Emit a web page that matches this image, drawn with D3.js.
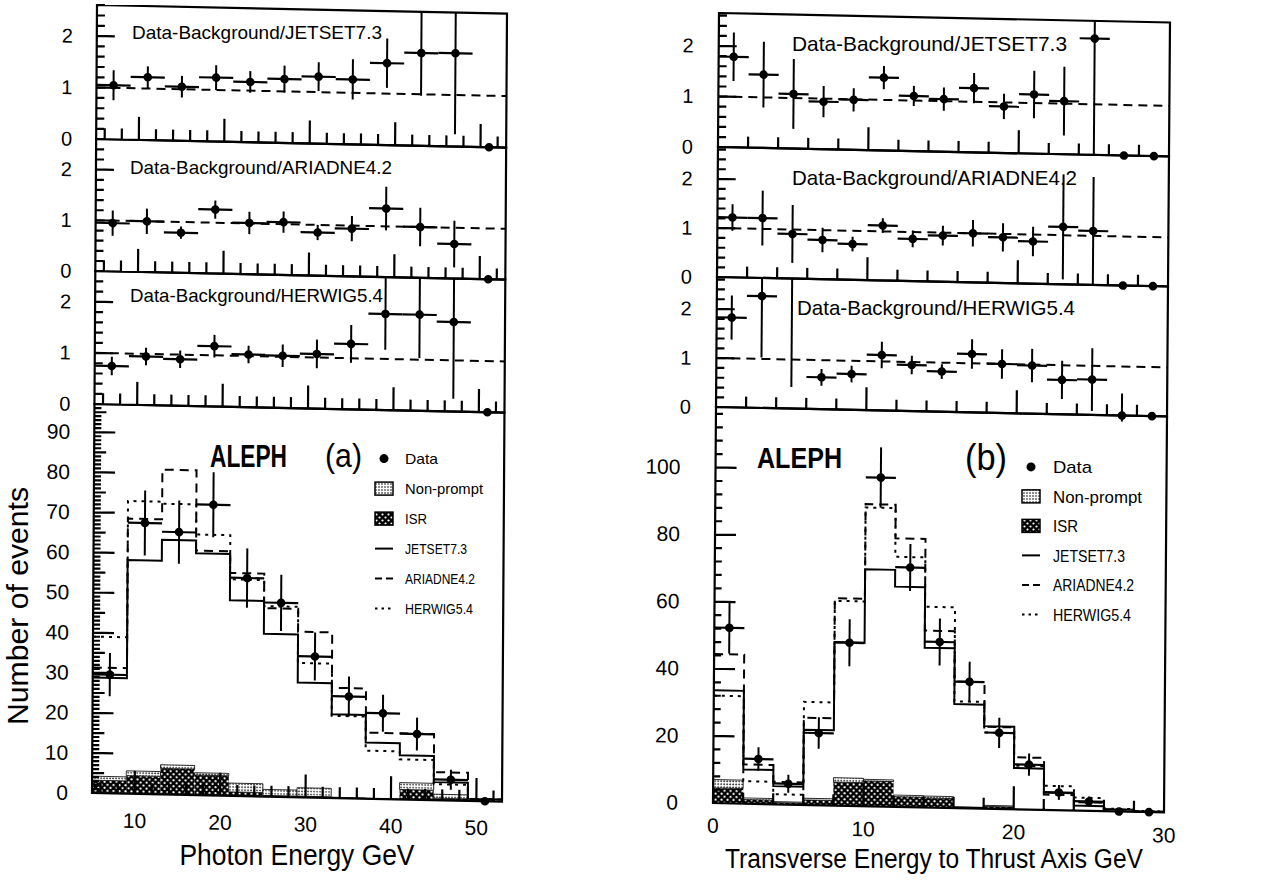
<!DOCTYPE html>
<html><head><meta charset="utf-8">
<script src="https://cdn.jsdelivr.net/npm/d3@7"></script>
<style>
body{margin:0;background:#fff;}
svg{display:block;}
text{font-family:"Liberation Sans","DejaVu Sans",Arial,sans-serif;fill:#000;}
</style>
</head><body>
<svg id="c" width="1261" height="882"></svg>
<script>
// ---------------- DATA ----------------
// (a) Photon energy, 4 GeV bins
const edgesA   = [5,9,13,17,21,25,29,33,37,41,45,49,53];
const centersA = [7,11,15,19,23,27,31,35,39,43,47,51];
const dataA    = [29.6,67.6,65.5,72.5,54.4,48.4,35.2,25.4,21.4,16.4,5.2,0];
const dataErrA = [5.4,8.1,7.9,8.1,7.4,7.0,6.0,5.0,4.6,4.1,2.5,0];
const jetsetA  = [28.8,58.3,63.5,60.3,48.8,40.6,28.6,20.9,14.0,11.0,4.5,0.5];
const ariadneA = [31.3,68.6,81.0,61.0,55.6,47.0,41.3,27.5,16.5,16.5,7.0,0.5];
const herwigA  = [39.0,73.0,72.5,65.0,54.0,47.5,33.5,20.5,12.0,10.0,4.0,0.5];
const isrA       = [3.2,4.5,6.5,5.0,1.0,0.3,0.3,0,0,2.5,0.5,0];
const nonPromptA = [1.0,1.2,0.9,0.6,2.2,1.5,2.1,0.2,0.1,1.7,1.0,0];
const ratioJetsetA     = [1.05,1.22,1.05,1.24,1.17,1.24,1.30,1.26,1.59,1.80,1.81,0];
const ratioJetsetErrA  = [0.29,0.21,0.21,0.24,0.21,0.26,0.28,0.39,0.48,0.83,1.57,0];
const ratioAriadneA    = [0.95,1.00,0.79,1.26,1.01,1.04,0.85,0.94,1.35,1.00,0.68,0];
const ratioAriadneErrA = [0.25,0.25,0.12,0.18,0.22,0.21,0.15,0.25,0.43,0.38,0.46,0];
const ratioHerwigA     = [0.75,0.95,0.91,1.18,1.03,1.02,1.07,1.28,1.88,1.88,1.75,0];
const ratioHerwigErrA  = [0.18,0.17,0.17,0.22,0.17,0.22,0.28,0.37,0.70,0.85,1.50,0];

// (b) Transverse energy to thrust axis, 2 GeV bins
const edgesB   = [0,2,4,6,8,10,12,14,16,18,20,22,24,26,28,30];
const centersB = [1,3,5,7,9,11,13,15,17,19,21,23,25,27,29];
const dataB    = [52.3,13.4,6.2,21.5,48.6,98.0,71.4,49.4,37.7,22.7,13.4,5.3,2.8,0,0];
const dataErrB = [7.7,3.5,2.7,4.7,7.0,9.0,7.0,7.0,6.0,4.5,3.3,2.2,1.5,0,0];
const jetsetB  = [33.6,10.2,5.4,22.4,48.7,70.6,65.6,47.6,31.0,24.6,12.3,5.2,1.5,0.6,0.2];
const ariadneB = [44.4,11.7,6.7,26.0,61.8,90.0,80.0,52.7,37.7,24.4,15.5,4.6,2.5,0.6,0.2];
const herwigB  = [32.0,6.7,3.0,30.7,61.0,89.0,74.5,59.8,31.8,22.7,13.0,7.2,3.9,0.8,0.3];
const isrB       = [4.5,1.2,0.5,1.5,7.0,7.5,3.0,2.8,0.3,0.7,0,0,0,0,0];
const nonPromptB = [2.5,0.5,0.3,0.5,1.3,0.5,0.5,0.6,0.1,0.3,0,0,0,0,0];
const ratioJetsetB     = [1.79,1.45,1.08,0.94,0.99,1.44,1.09,1.04,1.27,0.92,1.17,1.05,2.30,0,0];
const ratioJetsetErrB  = [0.48,0.65,0.69,0.31,0.23,0.23,0.20,0.23,0.30,0.25,0.47,0.68,2.30,0,0];
const ratioAriadneB    = [1.22,1.22,0.91,0.80,0.73,1.12,0.86,0.94,1.00,0.93,0.86,1.17,1.10,0,0];
const ratioAriadneErrB = [0.27,0.56,0.59,0.25,0.15,0.15,0.17,0.20,0.27,0.29,0.30,1.07,1.10,0,0];
const ratioHerwigB     = [1.83,2.28,3.00,0.65,0.73,1.13,0.94,0.82,1.19,1.00,0.98,0.70,0.72,0,0];
const ratioHerwigErrB  = [0.45,1.25,2.56,0.17,0.17,0.27,0.19,0.15,0.30,0.30,0.34,0.39,0.64,0.45,0];

// tick labels
const ratioTickLabels = [0,1,2];
const mainTicksA = [0,10,20,30,40,50,60,70,80,90];
const mainTicksB = [0,20,40,60,80,100];
const xTicksA = [10,20,30,40,50];
const xTicksB = [0,10,20,30];
const ratioTitlesA = ["Data-Background/JETSET7.3","Data-Background/ARIADNE4.2","Data-Background/HERWIG5.4"];
const ratioTitlesB = ["Data-Background/JETSET7.3","Data-Background/ARIADNE4.2","Data-Background/HERWIG5.4"];
const legendLabels = ["Data","Non-prompt","ISR","JETSET7.3","ARIADNE4.2","HERWIG5.4"];

// ---------------- DRAWING ----------------
const svg = d3.select("#c");
const defs = svg.append("defs");
const pI = defs.append("pattern").attr("id","isrPat").attr("patternUnits","userSpaceOnUse").attr("width",6).attr("height",6);
pI.append("rect").attr("width",6).attr("height",6).attr("fill","#000");
pI.append("circle").attr("cx",1.5).attr("cy",1.5).attr("r",1.1).attr("fill","#fff");
pI.append("circle").attr("cx",4.5).attr("cy",4.5).attr("r",1.1).attr("fill","#fff");
const pN = defs.append("pattern").attr("id","npPat").attr("patternUnits","userSpaceOnUse").attr("width",3).attr("height",3);
pN.append("rect").attr("width",3).attr("height",3).attr("fill","#fff");
pN.append("circle").attr("cx",1).attr("cy",1).attr("r",0.8).attr("fill","#000");

const DASH = {jetset:null, ariadne:"9,6", herwig:"3,5"};

function stepPts(edges, vals){
  const p = vals.map((v,i)=>[edges[i],v]);
  p.push([edges[edges.length-1], vals[vals.length-1]]);
  return p;
}

// frame + ticks combined in a single path (design coordinates, inside skewed group)
function frameWithTicks(g, l, t, r, b, segs){
  let d = `M${l},${t}H${r}V${b}H${l}Z`;
  segs.forEach(s=>{ d += `M${s[0].toFixed(2)},${s[1].toFixed(2)}L${s[2].toFixed(2)},${s[3].toFixed(2)}`; });
  g.append("path").attr("d",d).attr("fill","none").attr("stroke","#000").attr("stroke-width",2.2);
}

function drawPoints(g, x, y, centers, vals, errs, halfW, clipId){
  const pts = centers.map((c,i)=>({c, v:vals[i], e:errs[i]}));
  const pg = g.append("g").attr("clip-path",`url(#${clipId})`);
  pg.append("g").selectAll("line").data(pts.filter(d=>d.v>0)).join("line")
    .attr("x1",d=>x(d.c-halfW)).attr("x2",d=>x(d.c+halfW))
    .attr("y1",d=>y(d.v)).attr("y2",d=>y(d.v))
    .attr("stroke","#000").attr("stroke-width",2.2);
  pg.append("g").selectAll("line").data(pts.filter(d=>d.e>0)).join("line")
    .attr("x1",d=>x(d.c)).attr("x2",d=>x(d.c))
    .attr("y1",d=>y(d.v-d.e)).attr("y2",d=>y(d.v+d.e))
    .attr("stroke","#000").attr("stroke-width",2);
  pg.append("g").selectAll("circle").data(pts).join("circle")
    .attr("cx",d=>x(d.c)).attr("cy",d=>y(d.v)).attr("r",4.3).attr("fill","#000");
}

function panel(cfg, P){
  const g = svg.append("g").attr("transform",
    `translate(${cfg.left},${cfg.top}) matrix(1,${cfg.skewB},${cfg.skewC},1,0,0) translate(${-cfg.left},${-cfg.top})`);
  const x = d3.scaleLinear().domain(cfg.xDomain).range([cfg.left, cfg.right]);
  const tops = [cfg.top, ...cfg.ratioBottoms];
  const halfW = (P.edges[1]-P.edges[0])/2;
  const xMinor = d3.range(Math.ceil(cfg.xDomain[0]), cfg.xDomain[1], 1)
                   .filter(v=>v%2===0 && v>cfg.xDomain[0] && v<cfg.xDomain[1]);

  P.ratios.forEach((r,k)=>{
    const top = tops[k], bot = tops[k+1];
    const y = d3.scaleLinear().domain([0,cfg.ratioMax]).range([bot, top]);
    const cid = cfg.id+"r"+k;
    defs.append("clipPath").attr("id",cid).append("rect")
      .attr("x",cfg.left-10).attr("y",top).attr("width",cfg.right-cfg.left+20).attr("height",bot-top+6);
    g.append("line").attr("x1",cfg.left).attr("x2",cfg.right).attr("y1",y(1)).attr("y2",y(1))
      .attr("stroke","#000").attr("stroke-width",2).attr("stroke-dasharray","9,6");
    drawPoints(g, x, y, P.centers, r.vals, r.errs, halfW, cid);
    const segs = [];
    d3.range(1, Math.floor(cfg.ratioMax*5+1e-6)+1).forEach(i=>{
      const v=i/5, L=(i%5===0)?18:8; segs.push([cfg.left, y(v), cfg.left+L, y(v)]);
    });
    xMinor.forEach(v=>segs.push([x(v), bot, x(v), bot-(v%10===0?23:11)]));
    g.append("g").selectAll("text").data(ratioTickLabels).join("text")
      .attr("x",cfg.left-cfg.yLabelOffRatio).attr("y",d=>y(d)).attr("dy","0.36em")
      .attr("text-anchor","end").attr("font-size",cfg.ratioLabelSize).text(d=>d);
    frameWithTicks(g, cfg.left, top, cfg.right, bot, segs);
  });

  const mTop = tops[3], mBot = cfg.mainBottom;
  const y = d3.scaleLinear().domain([0,cfg.mainMax]).range([mBot, mTop]);
  const cid = cfg.id+"m";
  defs.append("clipPath").attr("id",cid).append("rect")
    .attr("x",cfg.left-10).attr("y",mTop).attr("width",cfg.right-cfg.left+20).attr("height",mBot-mTop+6);
  const bins = P.isr.map((v,i)=>({x0:P.edges[i], x1:P.edges[i+1], isr:v, np:P.np[i]}));
  g.append("g").selectAll("rect").data(bins.filter(d=>d.isr>0)).join("rect")
    .attr("x",d=>x(d.x0)).attr("width",d=>x(d.x1)-x(d.x0))
    .attr("y",d=>y(d.isr)).attr("height",d=>y(0)-y(d.isr)).attr("fill","url(#isrPat)");
  g.append("g").selectAll("rect").data(bins.filter(d=>d.np>0)).join("rect")
    .attr("x",d=>x(d.x0)).attr("width",d=>x(d.x1)-x(d.x0))
    .attr("y",d=>y(d.isr+d.np)).attr("height",d=>y(d.isr)-y(d.isr+d.np))
    .attr("fill","url(#npPat)").attr("stroke","#000").attr("stroke-width",0.8);
  const line = d3.line().x(d=>x(d[0])).y(d=>y(d[1])).curve(d3.curveStepAfter);
  P.hists.forEach(h=>{
    g.append("path").attr("d",line(stepPts(P.edges,h.vals))).attr("fill","none")
      .attr("stroke","#000").attr("stroke-width",2).attr("stroke-dasharray",DASH[h.key]);
  });
  drawPoints(g, x, y, P.centers, P.data, P.dataErr, halfW, cid);
  const segs = [];
  d3.range(1, Math.floor(cfg.mainMax/cfg.mainMinor)+1).forEach(i=>{
    const v=i*cfg.mainMinor;
    const L = v%cfg.mainMajor===0 ? 21 : (cfg.mainMid && v%cfg.mainMid===0 ? 12 : 7);
    segs.push([cfg.left, y(v), cfg.left+L, y(v)]);
  });
  xMinor.forEach(v=>segs.push([x(v), mBot, x(v), mBot-(v%10===0?23:11)]));
  g.append("g").selectAll("text").data(P.yTicks).join("text")
    .attr("x",cfg.left-cfg.yLabelOffMain).attr("y",d=>y(d)).attr("dy","0.36em")
    .attr("text-anchor","end").attr("font-size",21).text(d=>d);
  g.append("g").selectAll("text").data(P.xTicks).join("text")
    .attr("x",d=>x(d)).attr("y",mBot+cfg.xLabelDy)
    .attr("text-anchor","middle").attr("font-size",21).text(d=>d);
  frameWithTicks(g, cfg.left, mTop, cfg.right, mBot, segs);
}

panel({id:"A", left:97, right:507, top:5, ratioBottoms:[139,271,404], mainBottom:793, xDomain:[5,53],
       ratioMax:2.6, mainMax:97, skewB:0.021, skewC:-0.00635, yLabelOffRatio:24, yLabelOffMain:24,
       xLabelDy:34, mainMinor:1, mainMid:5, mainMajor:10, ratioLabelSize:20},
 {edges:edgesA, centers:centersA, data:dataA, dataErr:dataErrA, isr:isrA, np:nonPromptA,
  yTicks:mainTicksA, xTicks:xTicksA,
  hists:[{key:"jetset",vals:jetsetA},{key:"ariadne",vals:ariadneA},{key:"herwig",vals:herwigA}],
  ratios:[{vals:ratioJetsetA,errs:ratioJetsetErrA},{vals:ratioAriadneA,errs:ratioAriadneErrA},{vals:ratioHerwigA,errs:ratioHerwigErrA}]});

panel({id:"B", left:719, right:1170, top:13, ratioBottoms:[147,277,407], mainBottom:803, xDomain:[0,30],
       ratioMax:2.65, mainMax:118, skewB:0.021, skewC:-0.0076, yLabelOffRatio:25, yLabelOffMain:35,
       xLabelDy:30, mainMinor:4, mainMid:null, mainMajor:20, ratioLabelSize:20},
 {edges:edgesB, centers:centersB, data:dataB, dataErr:dataErrB, isr:isrB, np:nonPromptB,
  yTicks:mainTicksB, xTicks:xTicksB,
  hists:[{key:"jetset",vals:jetsetB},{key:"ariadne",vals:ariadneB},{key:"herwig",vals:herwigB}],
  ratios:[{vals:ratioJetsetB,errs:ratioJetsetErrB},{vals:ratioAriadneB,errs:ratioAriadneErrB},{vals:ratioHerwigB,errs:ratioHerwigErrB}]});

// ---------------- TEXT (page coordinates) ----------------
const T = svg.append("g");
function txt(s, x, y, size, len, opts={}){
  const t = T.append("text").attr("x",x).attr("y",y).attr("font-size",size).text(s);
  if(len) t.attr("textLength",len).attr("lengthAdjust","spacingAndGlyphs");
  if(opts.anchor) t.attr("text-anchor",opts.anchor);
  if(opts.weight) t.attr("font-weight",opts.weight);
  return t;
}
[[132,39],[130,174],[130,302]].forEach((p,i)=>txt(ratioTitlesA[i], p[0], p[1], 19, [250,262,253][i]));
[[792,51],[792,185],[797,315]].forEach((p,i)=>txt(ratioTitlesB[i], p[0], p[1], 21, [275,285,278][i]));
txt("ALEPH",210,467,31,77,{weight:"bold"});
txt("(a)",325,467,34,37);
txt("ALEPH",757,468,30,85,{weight:"bold"});
txt("(b)",965,470,36,42);
T.append("text").attr("transform","translate(28,606) rotate(-90)").attr("text-anchor","middle")
  .attr("font-size",29).attr("textLength",238).attr("lengthAdjust","spacingAndGlyphs").text("Number of events");
txt("Photon Energy GeV",297,865,30,235,{anchor:"middle"});
txt("Transverse Energy to Thrust Axis GeV",934,868,27,418,{anchor:"middle"});

function legend(x0, symX, base, step, size, widths){
  legendLabels.forEach((lab,i)=>{
    const yb = base + step*i, ym = yb - size*0.36;
    if(i===0) T.append("circle").attr("cx",symX+9).attr("cy",ym).attr("r",4.5).attr("fill","#000");
    else if(i===1||i===2){
      T.append("rect").attr("x",symX).attr("y",ym-6.5).attr("width",18).attr("height",13)
        .attr("fill",i===1?"url(#npPat)":"url(#isrPat)").attr("stroke","#000").attr("stroke-width",1.5);
    } else {
      T.append("line").attr("x1",symX).attr("x2",symX+18).attr("y1",ym).attr("y2",ym)
        .attr("stroke","#000").attr("stroke-width",2)
        .attr("stroke-dasharray",i===4?"7,4":(i===5?"2.5,4":null));
    }
    txt(lab, x0, yb, size, widths[i]);
  });
}
legend(405, 375, 464, 30, 15, [33,78,22,62,70,68]);
legend(1053, 1022, 473, 29.5, 17, [39,89,25,72,81,78]);
</script>
</body></html>
